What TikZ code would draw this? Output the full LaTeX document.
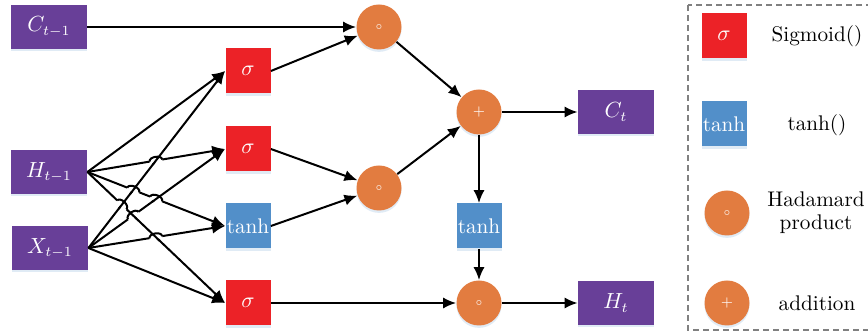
\documentclass[tikz,border=0pt]{standalone}
\usetikzlibrary{calc,arrows.meta,shadows}

\definecolor{statepurple}{RGB}{104,63,152}
\definecolor{gatered}{RGB}{236,34,39}
\definecolor{gateblue}{RGB}{82,143,201}
\definecolor{oporange}{RGB}{226,124,64}

% small jump of a flat line over a steeper one
\newcommand{\linehop}[4]{%
    \coordinate (hp) at (intersection of #1--#2 and #3--#4);
    \draw[white, line width=2pt] ($(hp)!3.2pt!(#1)$) -- ($(hp)!3.2pt!(#2)$);
    \draw[line] ($(hp)!2.6pt!(#3)$) -- ($(hp)!2.6pt!(#4)$);
    \draw[line] ($(hp)!3.2pt!(#1)$) to[bend left=90] ($(hp)!3.2pt!(#2)$);
}

\begin{document}
\begin{tikzpicture}[
            x=0.5pt, y=-0.5pt,
            font=\fontsize{10.6}{11.5}\selectfont,
            soft/.style={drop shadow={shadow xshift=0pt, shadow yshift=-1.2pt, fill=gateblue!40, opacity=0.45}},
            state/.style={rectangle, fill=statepurple, text=white, minimum width=38pt, minimum height=22pt, inner sep=0pt, soft},
            sig/.style={rectangle, fill=gatered, text=white, minimum size=22.5pt, inner sep=0pt, soft},
            tanhbox/.style={rectangle, fill=gateblue, text=white, minimum size=22.5pt, inner sep=0pt, soft},
            op/.style={circle, fill=oporange, text=white, minimum size=22.5pt, inner sep=0pt, soft},
            line/.style={draw, line width=1pt},
            arrow/.style={line, -{Latex[length=6.5pt,width=5.6pt]}},
            legend_text/.style={align=center}
        ]
        \useasboundingbox (0,0) rectangle (868,335);

        % Inputs
        \node[state] (c_prev) at (49,27) {$C_{t-1}$};
        \node[state] (h_prev) at (49,172) {$H_{t-1}$};
        \node[state] (x_prev) at (50,248) {$X_{t-1}$};

        % Gates
        \node[sig] (sig_f) at (248,71) {$\sigma$};
        \node[sig] (sig_i) at (248,149) {$\sigma$};
        \node[tanhbox] (tanh_g) at (248,226) {tanh};
        \node[sig] (sig_o) at (248,303) {$\sigma$};

        % Operations
        \node[op] (had_top) at (379,27) {\tiny$\circ$};
        \node[op] (had_mid) at (379,188) {\tiny$\circ$};
        \node[op] (add) at (479,112) {\scriptsize$+$};
        \node[tanhbox] (tanh_c) at (479,226) {tanh};
        \node[op] (had_out) at (479,303) {\tiny$\circ$};

        % Outputs
        \node[state] (c_next) at (616,112) {$C_{t}$};
        \node[state] (h_next) at (616,303) {$H_{t}$};

        % Legend
        \draw[gray, dashed, dash pattern=on 3pt off 2pt, line width=0.6pt] (688,5) rectangle (880,330);
        \node[sig] (lg_sig) at (724,36) {$\sigma$};
        \node[legend_text] at (817,36) {Sigmoid()};
        \node[tanhbox] (lg_tanh) at (724,124) {tanh};
        \node[legend_text] at (817,125) {tanh()};
        \node[op] (lg_had) at (727,213) {\tiny$\circ$};
        \node[legend_text] at (816,213) {Hadamard\\product};
        \node[op] (lg_add) at (727,303) {\scriptsize$+$};
        \node[legend_text] at (817,303) {addition};

        \draw[arrow] (c_prev) -- (had_top);
        \draw[arrow] (sig_f.east) -- (had_top);

        \draw[arrow] (h_prev.east) -- (sig_f.west);
        \draw[arrow] (h_prev.east) -- (sig_i.west);
        \draw[arrow] (h_prev.east) -- (tanh_g.west);
        \draw[arrow] (h_prev.east) -- (sig_o.west);

        \draw[arrow] (x_prev.east) -- (sig_f.west);
        \draw[arrow] (x_prev.east) -- (sig_i.west);
        \draw[arrow] (x_prev.east) -- (tanh_g.west);
        \draw[arrow] (x_prev.east) -- (sig_o.west);

        \linehop{h_prev.east}{sig_i.west}{x_prev.east}{sig_f.west}
        \linehop{h_prev.east}{tanh_g.west}{x_prev.east}{sig_f.west}
        \linehop{h_prev.east}{tanh_g.west}{x_prev.east}{sig_i.west}
        \linehop{h_prev.east}{sig_o.west}{x_prev.east}{sig_f.west}
        \linehop{x_prev.east}{sig_i.west}{h_prev.east}{sig_o.west}
        \linehop{x_prev.east}{tanh_g.west}{h_prev.east}{sig_o.west}

        \draw[arrow] (sig_i.east) -- (had_mid);
        \draw[arrow] (tanh_g.east) -- (had_mid);

        \draw[arrow] (had_top) -- (add);
        \draw[arrow] (had_mid) -- (add);

        \draw[arrow] (add) -- (c_next);
        \draw[arrow] (add) -- (tanh_c);

        \draw[arrow] (tanh_c) -- (had_out);
        \draw[arrow] (sig_o) -- (had_out);

        \draw[arrow] (had_out) -- (h_next);

    \end{tikzpicture}
\end{document}
